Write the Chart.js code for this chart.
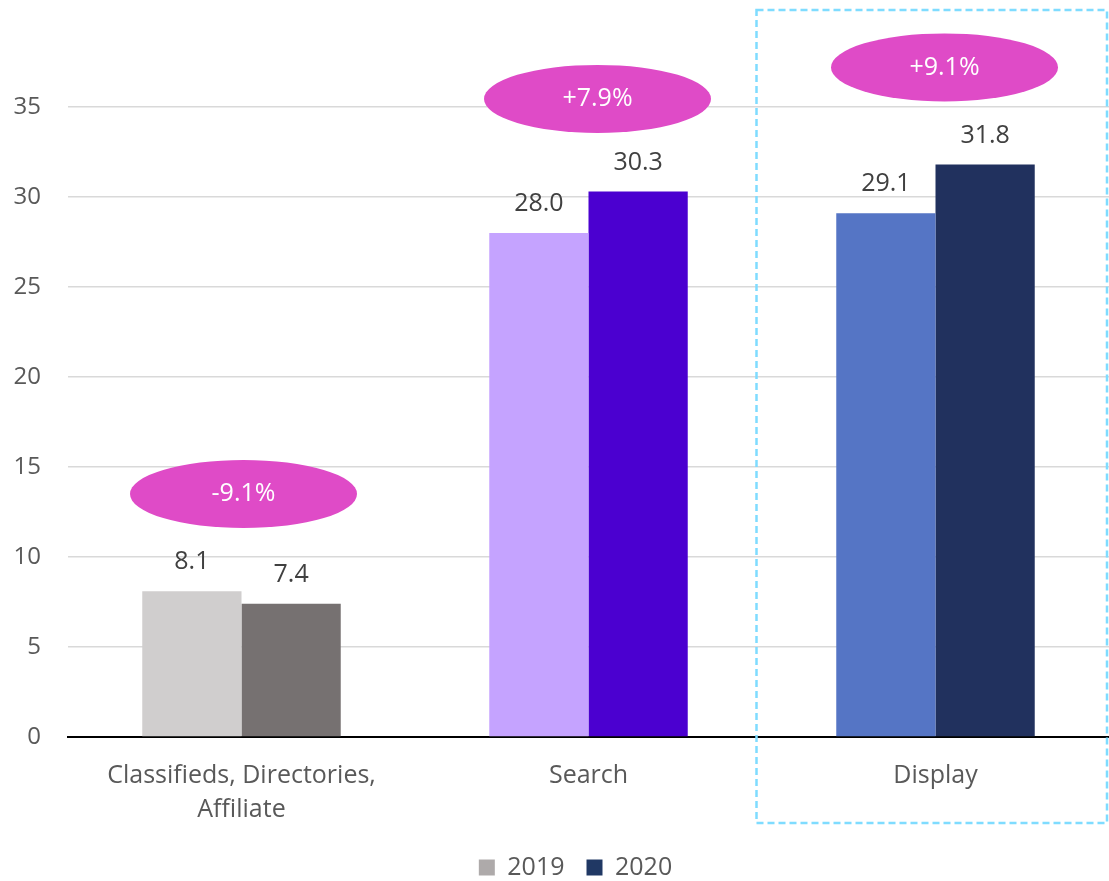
<!DOCTYPE html>
<html>
<head>
<meta charset="utf-8">
<script src="https://cdn.jsdelivr.net/npm/chart.js@4/dist/chart.umd.min.js"></script>
<style>
  html, body { margin: 0; padding: 0; background: #fff; }
  #wrap { width: 1109px; height: 881px; position: relative; }
</style>
</head>
<body>
<div id="wrap"><canvas id="chart_root"></canvas></div>
<script>
const categories = [['Classifieds, Directories,', 'Affiliate'], 'Search', 'Display'];
const seriesNames = ['2019', '2020'];
const values2019 = [8.1, 28.0, 29.1];
const values2020 = [7.4, 30.3, 31.8];
const changeLabels = ['-9.1%', '+7.9%', '+9.1%'];
const yTicks = [0, 5, 10, 15, 20, 25, 30, 35];

const colors2019 = ['#d0cece', '#c5a3ff', '#5575c5'];
const colors2020 = ['#767171', '#4b00d0', '#21315e'];
const legendColors = ['#aeaaaa', '#203864'];
const FONT = "'Open Sans', sans-serif";

// value labels above bars
const valueLabels = {
  id: 'valueLabels',
  afterDatasetsDraw(chart) {
    const ctx = chart.ctx;
    ctx.save();
    ctx.font = '25px ' + FONT;
    ctx.fillStyle = '#404040';
    ctx.textAlign = 'center';
    ctx.textBaseline = 'middle';
    chart.data.datasets.forEach((ds, i) => {
      chart.getDatasetMeta(i).data.forEach((bar, j) => {
        ctx.fillText(ds.data[j].toFixed(1), bar.x, bar.y - 29);
      });
    });
    ctx.restore();
  }
};

// pink ellipses with change labels + dashed box round Display
const callouts = {
  id: 'callouts',
  afterLayout(chart) {
    // nudge the legend to where it sits in the original
    chart.legend.left += 21;
    chart.legend.right += 21;
    chart.legend.top += 9;
    chart.legend.bottom += 9;
  },
  afterDraw(chart) {
    const ctx = chart.ctx;
    const x = chart.scales.x;
    const y = chart.scales.y;
    const levels = [13.5, 35.45, 37.2];
    const shifts = [2, 9, 9];
    ctx.save();
    changeLabels.forEach((txt, i) => {
      const cx = x.getPixelForValue(i) + shifts[i];
      const cy = y.getPixelForValue(levels[i]);
      ctx.beginPath();
      ctx.ellipse(cx, cy, 113.5, 34, 0, 0, Math.PI * 2);
      ctx.fillStyle = '#df4bc7';
      ctx.fill();
      ctx.font = '25px ' + FONT;
      ctx.fillStyle = '#ffffff';
      ctx.textAlign = 'center';
      ctx.textBaseline = 'middle';
      ctx.fillText(txt, cx, cy);
    });
    const left = x.getPixelForValue(2) - 179;
    ctx.setLineDash([7, 4]);
    ctx.lineWidth = 2.5;
    ctx.strokeStyle = '#7fdcff';
    ctx.strokeRect(left, 10, 1107 - left, 813);
    ctx.restore();
  }
};

new Chart(document.getElementById('chart_root'), {
  type: 'bar',
  data: {
    labels: categories,
    datasets: [
      { label: seriesNames[0], data: values2019, backgroundColor: colors2019 },
      { label: seriesNames[1], data: values2020, backgroundColor: colors2020 }
    ]
  },
  options: {
    responsive: true,
    maintainAspectRatio: false,
    animation: false,
    layout: { padding: { top: 17, right: 0, left: 0, bottom: 0 } },
    datasets: { bar: { categoryPercentage: 0.572, barPercentage: 1.0 } },
    plugins: {
      tooltip: { enabled: false },
      legend: {
        position: 'bottom',
        labels: {
          font: { family: FONT, size: 25 },
          color: '#595959',
          boxWidth: 16,
          boxHeight: 16,
          padding: 22,
          generateLabels: () => seriesNames.map((n, i) => ({
            text: n, fillStyle: legendColors[i], strokeStyle: legendColors[i],
            lineWidth: 0, fontColor: '#595959', datasetIndex: i
          }))
        }
      }
    },
    scales: {
      x: {
        grid: { display: false, drawTicks: false },
        border: { display: true, color: '#000000', width: 2 },
        ticks: {
          color: '#595959',
          font: { family: FONT, size: 25, lineHeight: 1.36 },
          padding: 22,
          maxRotation: 0
        },
        afterFit: (s) => { s.height = 87; }
      },
      y: {
        min: 0,
        max: 40,
        afterBuildTicks: (axis) => { axis.ticks = yTicks.map(v => ({ value: v })); },
        grid: {
          drawTicks: false,
          color: (c) => c.tick && c.tick.value === 0 ? 'rgba(0,0,0,0)' : '#d9d9d9',
          lineWidth: 1.5
        },
        border: { display: false },
        ticks: { color: '#595959', font: { family: FONT, size: 24 }, padding: 27 },
        afterFit: (s) => { s.width = 68; s.paddingTop = 0; s.paddingBottom = 0; }
      }
    }
  },
  plugins: [valueLabels, callouts]
});
</script>
</body>
</html>
